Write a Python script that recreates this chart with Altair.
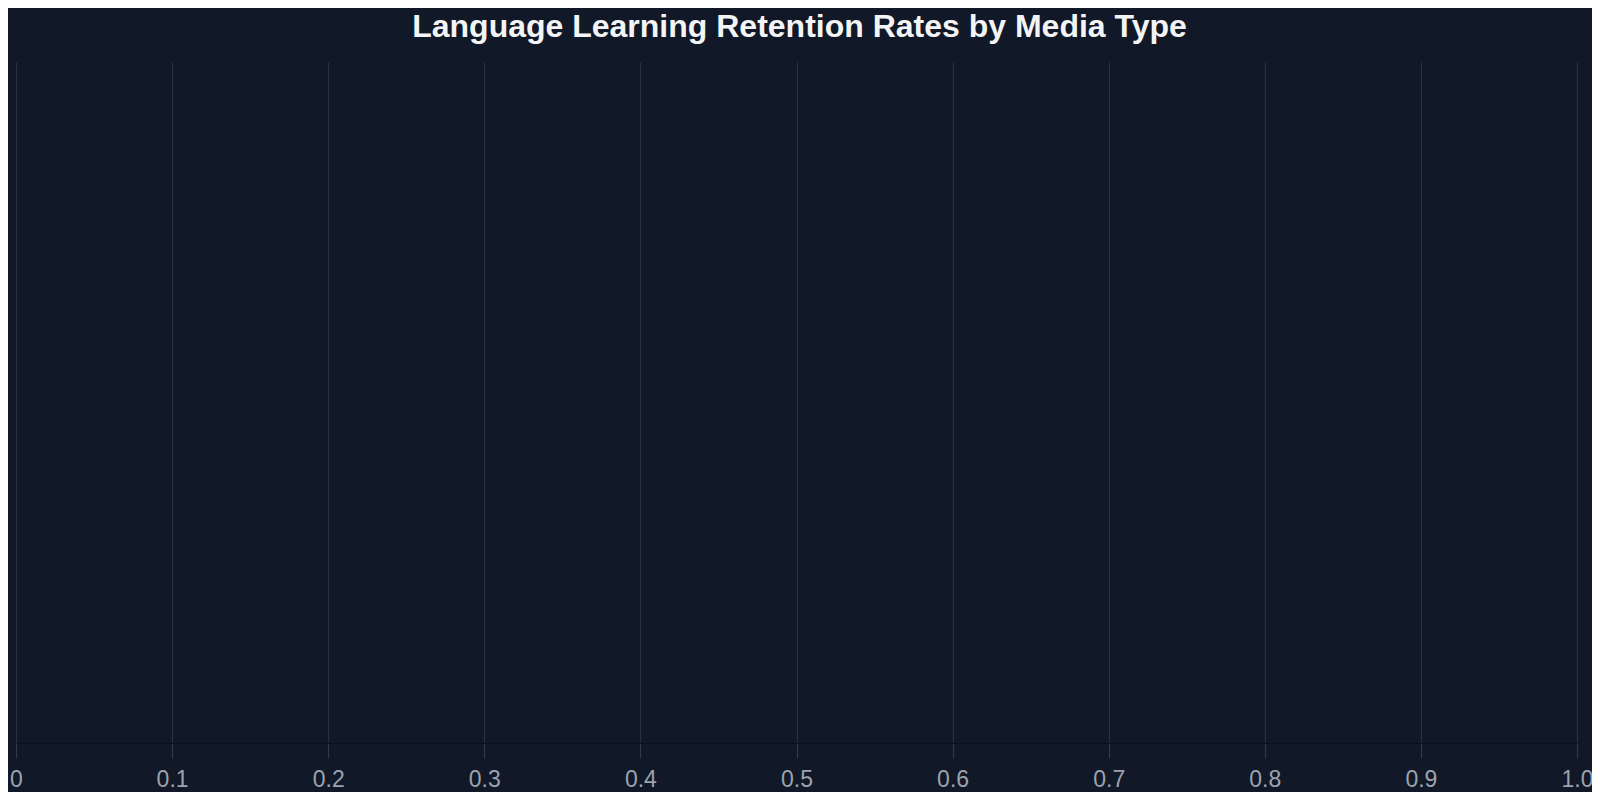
import altair as alt
import pandas as pd

# Data (the reference chart shows no bars: the series is empty)
media_types = []
retention_rates = []

# Axis ticks
x_ticks = [0, 0.1, 0.2, 0.3, 0.4, 0.5, 0.6, 0.7, 0.8, 0.9, 1.0]

df = pd.DataFrame({"media_type": pd.Series(media_types, dtype="object"),
                   "retention": pd.Series(retention_rates, dtype="float")})

BG = "#111827"

chart = (
    alt.Chart(df)
    .mark_bar(color="#60a5fa")
    .encode(
        x=alt.X(
            "retention:Q",
            scale=alt.Scale(domain=[0, 1], nice=False, zero=True),
            axis=alt.Axis(
                values=x_ticks,
                title=None,
                labelExpr="datum.value == 0 ? '0' : format(datum.value, '.1f')",
                grid=True,
                gridColor="#2a3140",
                gridWidth=1.2,
                domainColor="#0c111c",
                domainWidth=1.5,
                tickColor="#333a4a",
                tickWidth=1.2,
                tickSize=15,
                labelColor="#9ca3af",
                labelFont="Liberation Sans",
                labelFontSize=23,
                labelPadding=10,
                labelFlush=False,
                labelOverlap=False,
            ),
        ),
        y=alt.Y("media_type:N", axis=None),
    )
    .properties(
        width=1561,
        height=681,
        background=BG,
        padding={"left": 8, "top": 54, "right": 15, "bottom": 49},
        autosize=alt.AutoSizeParams(type="none"),
        title=alt.TitleParams(
            text="Language Learning Retention Rates by Media Type",
            font="Liberation Sans",
            fontSize=32,
            fontWeight="bold",
            color="#f3f4f6",
            anchor="middle",
            offset=18,
            dx=3,
        ),
    )
    .configure_view(strokeWidth=0)
)

chart.save("out.html", embed_options={"renderer": "svg", "actions": False})
